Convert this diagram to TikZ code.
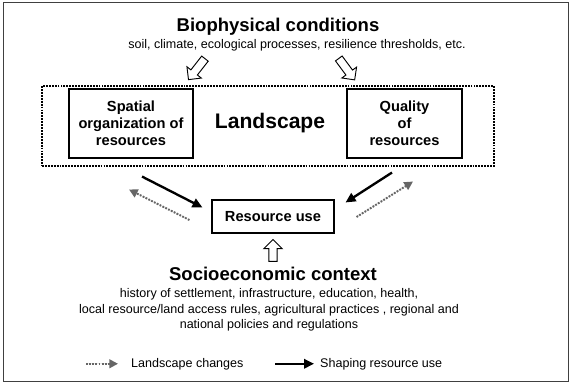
\documentclass[tikz,border=0pt]{standalone}
\usepackage{fontspec}
\setmainfont{Liberation Sans}
\usetikzlibrary{shapes.arrows,arrows.meta,calc}

\begin{document}
\begin{tikzpicture}[x=0.03cm,y=-0.03cm,
 frm/.style={draw=black!75,line width=0.8pt},
 hdl/.style={inner sep=0pt,font=\fontsize{15.8}{19}\selectfont\bfseries},
 sub/.style={inner sep=0pt,align=center,font=\fontsize{10.7}{13.4}\selectfont},
 land/.style={draw,line width=2pt,dash pattern=on 1.6pt off 0.9pt,minimum width=13.56cm,minimum height=2.4cm},
 box/.style={draw,line width=0.9pt,align=center,inner sep=0pt,font=\fontsize{12.5}{14.5}\selectfont\bfseries},
 hollow/.style={single arrow,draw,line width=0.8pt,fill=white,inner sep=1.1mm,single arrow head extend=1.5mm},
 shp/.style={-{Triangle[length=3mm,width=2.8mm]},line width=2pt},
 chg/.style={-{Triangle[length=2.6mm,width=2.6mm]},line width=1.7pt,draw=black!60,fill=black!60,dash pattern=on 1.5pt off 1.2pt}]
\useasboundingbox (0,0) rectangle (571,383);
\draw[frm] (3,2) rectangle (568,381);
% top: biophysical conditions
\node[hdl,anchor=base] (bio) at (278,31) {Biophysical conditions};
\node[sub,anchor=base] (biosub) at (297,48) {soil, climate, ecological processes, resilience thresholds, etc.};
\node[hollow,minimum height=0.8cm,rotate=231.9] (bioL) at (198,67.5) {};
\node[hollow,minimum height=0.8cm,rotate=306.5] (bioR) at (345.5,67.5) {};
% landscape
\node[land] (landscape) at (268,126) {};
\node[box,minimum width=3.72cm,minimum height=2.07cm] (spatial) at (131,123.5) {Spatial\\organization of\\resources};
\node[box,minimum width=3.45cm,minimum height=2.07cm] (quality) at (404.5,123.5) {Quality\\of\\resources};
\node[inner sep=0pt,anchor=base,font=\fontsize{18}{20}\selectfont\bfseries] (landtxt) at (270,128) {Landscape};
% resource use
\node[box,minimum width=3.66cm,minimum height=0.99cm] (resuse) at (273,216.5) {Resource use};
\draw[shp] ($(spatial.south)+(11,18)$) -- ($(resuse.north west)+(-9,8)$);
\draw[shp] ($(quality.south)+(-12.5,14)$) -- ($(resuse.north east)+(11,3)$);
\draw[chg] ($(resuse.west)+(-22,3.5)$) -- ($(spatial.south)+(-2,31)$);
\draw[chg] ($(resuse.east)+(22,0.5)$) -- ($(quality.south)+(8.5,23)$);
% socioeconomic context
\node[hollow,minimum height=0.66cm,rotate=90] (socUp) at (273,252.5) {};
\node[hdl,anchor=base] (socio) at (273,280) {Socioeconomic context};
\node[sub,anchor=north] (sociosub) at (269,288) {history of settlement, infrastructure, education, health,\\local resource/land access rules, agricultural practices , regional and\\national policies and regulations};
% legend
\node[sub,anchor=base west] (lgchg) at (131,367) {Landscape changes};
\node[sub,anchor=base west] (lgshp) at (320,367) {Shaping resource use};
\draw[chg] ($(lgchg.west)+(-45,0)$) -- ($(lgchg.west)+(-13,0)$);
\draw[shp] ($(lgshp.west)+(-45,0)$) -- ($(lgshp.west)+(-6,0)$);
\end{tikzpicture}
\end{document}
